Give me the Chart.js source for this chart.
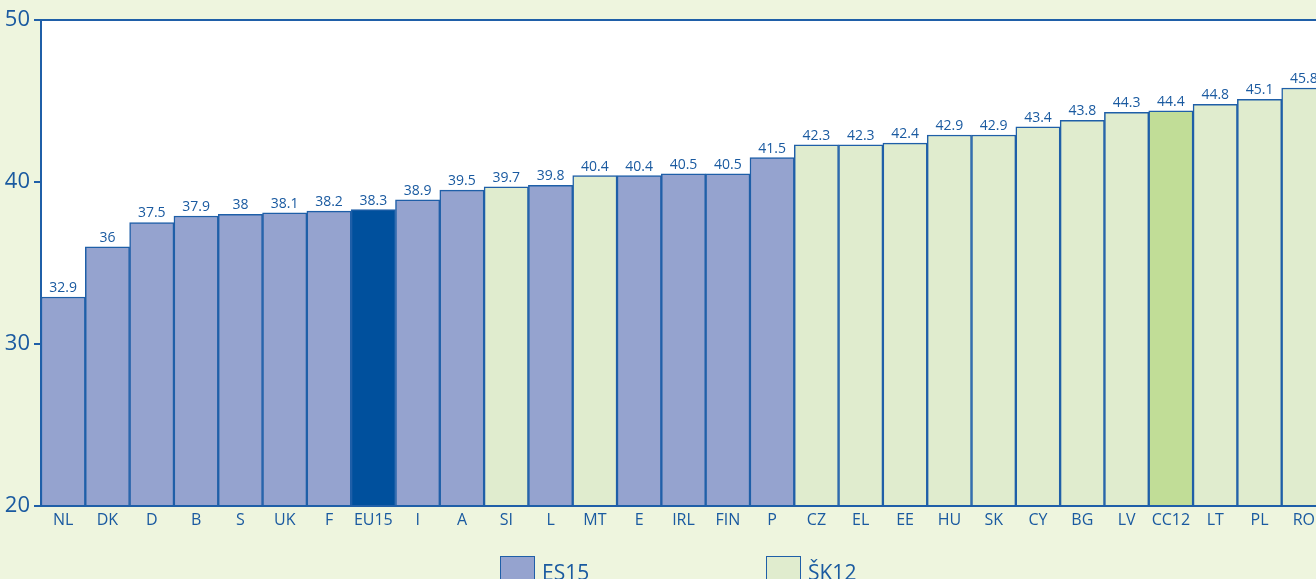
<!DOCTYPE html>
<html>
<head>
<meta charset="utf-8">
<script src="https://cdn.jsdelivr.net/npm/chart.js@4"></script>
<style>
  html, body { margin: 0; padding: 0; background: #eef5de; overflow: hidden; }
  #wrap { position: relative; width: 1316px; height: 579px; overflow: hidden; }
  .leg { position: absolute; top: 556px; height: 40px; font: 500 21px "Open Sans", sans-serif; color: #1a5aa0; white-space: nowrap; }
  .leg span.box { position: absolute; left: 0; top: 0; width: 33px; height: 32px; border: 1.5px solid #1f5fa8; }
  .leg span.txt { position: absolute; left: 42px; top: 1px; line-height: 30px; }
</style>
</head>
<body>
<div id="wrap">
  <canvas id="chart" width="1326" height="579"></canvas>
  <div class="leg" style="left:500px"><span class="box" style="background:#95a3cf"></span><span class="txt">ES15</span></div>
  <div class="leg" style="left:766px"><span class="box" style="background:#e0ecce"></span><span class="txt">ŠK12</span></div>
</div>
<script>
// podatki
const categories = ['NL','DK','D','B','S','UK','F','EU15','I','A','SI','L','MT','E','IRL','FIN','P',
  'CZ','EL','EE','HU','SK','CY','BG','LV','CC12','LT','PL','RO'];
const values = [32.9, 36, 37.5, 37.9, 38, 38.1, 38.2, 38.3, 38.9, 39.5, 39.7, 39.8, 40.4, 40.4, 40.5, 40.5, 41.5,
  42.3, 42.3, 42.4, 42.9, 42.9, 43.4, 43.8, 44.3, 44.4, 44.8, 45.1, 45.8];
// skupina vsakega stolpca: es = ES15, sk = ŠK12, eu = EU15 povprečje, cc = CC12 povprečje
const groups = ['es','es','es','es','es','es','es','eu','es','es','sk','es','sk','es','es','es','es',
  'sk','sk','sk','sk','sk','sk','sk','sk','cc','sk','sk','sk'];
const yTicks = [20, 30, 40, 50];

const blue = '#1a5aa0';
const line = '#1f5fa8';
const fill = { es: '#95a3cf', sk: '#e0ecce', eu: '#00509d', cc: '#c1dd97' };

// številke nad stolpci
const valueLabels = {
  id: 'valueLabels',
  afterDatasetsDraw(chart) {
    const ctx = chart.ctx;
    const meta = chart.getDatasetMeta(0);
    ctx.save();
    ctx.font = '500 14px "Open Sans", sans-serif';
    ctx.fillStyle = blue;
    ctx.textAlign = 'center';
    ctx.textBaseline = 'bottom';
    meta.data.forEach((bar, i) => {
      ctx.fillText(String(values[i]), bar.x, bar.y - 2);
    });
    ctx.restore();
  }
};

// okvir risalne površine in oznake na osi y
const frame = {
  id: 'frame',
  afterDatasetsDraw(chart) {
    const a = chart.chartArea;
    const ctx = chart.ctx;
    const y = chart.scales.y;
    ctx.save();
    ctx.strokeStyle = line;
    ctx.lineWidth = 2;
    ctx.beginPath();
    ctx.moveTo(a.left, a.bottom);
    ctx.lineTo(a.left, a.top);
    ctx.lineTo(a.right, a.top);
    ctx.moveTo(a.left, a.bottom);
    ctx.lineTo(a.right, a.bottom);
    yTicks.forEach(v => {
      const py = y.getPixelForValue(v);
      ctx.moveTo(a.left - 7, py);
      ctx.lineTo(a.left, py);
    });
    ctx.stroke();
    ctx.restore();
  }
};

const plotBg = {
  id: 'plotBg',
  beforeDraw(chart) {
    const a = chart.chartArea;
    chart.ctx.save();
    chart.ctx.fillStyle = '#ffffff';
    chart.ctx.fillRect(a.left, a.top, a.right - a.left, a.bottom - a.top);
    chart.ctx.restore();
  }
};

new Chart(document.getElementById('chart').getContext('2d'), {
  type: 'bar',
  data: {
    labels: categories,
    datasets: [{
      data: values,
      backgroundColor: groups.map(g => fill[g]),
      borderColor: line,
      borderWidth: 1.5,
      borderSkipped: 'bottom',
      categoryPercentage: 1,
      barPercentage: 1
    }]
  },
  options: {
    responsive: false,
    animation: false,
    layout: { padding: { top: 20, right: 0, bottom: 43, left: 0 } },
    plugins: { legend: { display: false }, tooltip: { enabled: false } },
    scales: {
      x: {
        grid: { display: false, drawTicks: false },
        border: { display: false },
        ticks: { color: blue, font: { size: 16, weight: '500', family: '"Open Sans", sans-serif' }, padding: 5, maxRotation: 0, autoSkip: false },
        afterFit(scale) { scale.height = 30; }
      },
      y: {
        min: 20,
        max: 50,
        afterBuildTicks(scale) { scale.ticks = yTicks.map(v => ({ value: v })); },
        grid: { display: true, drawOnChartArea: false, drawTicks: true, tickLength: 11, color: 'rgba(0,0,0,0)' },
        border: { display: false },
        ticks: { color: blue, font: { size: 22, weight: '500', family: '"Open Sans", sans-serif' }, padding: 0 },
        afterFit(scale) { scale.width = 41; }
      }
    }
  },
  plugins: [plotBg, valueLabels, frame]
});
</script>
</body>
</html>
